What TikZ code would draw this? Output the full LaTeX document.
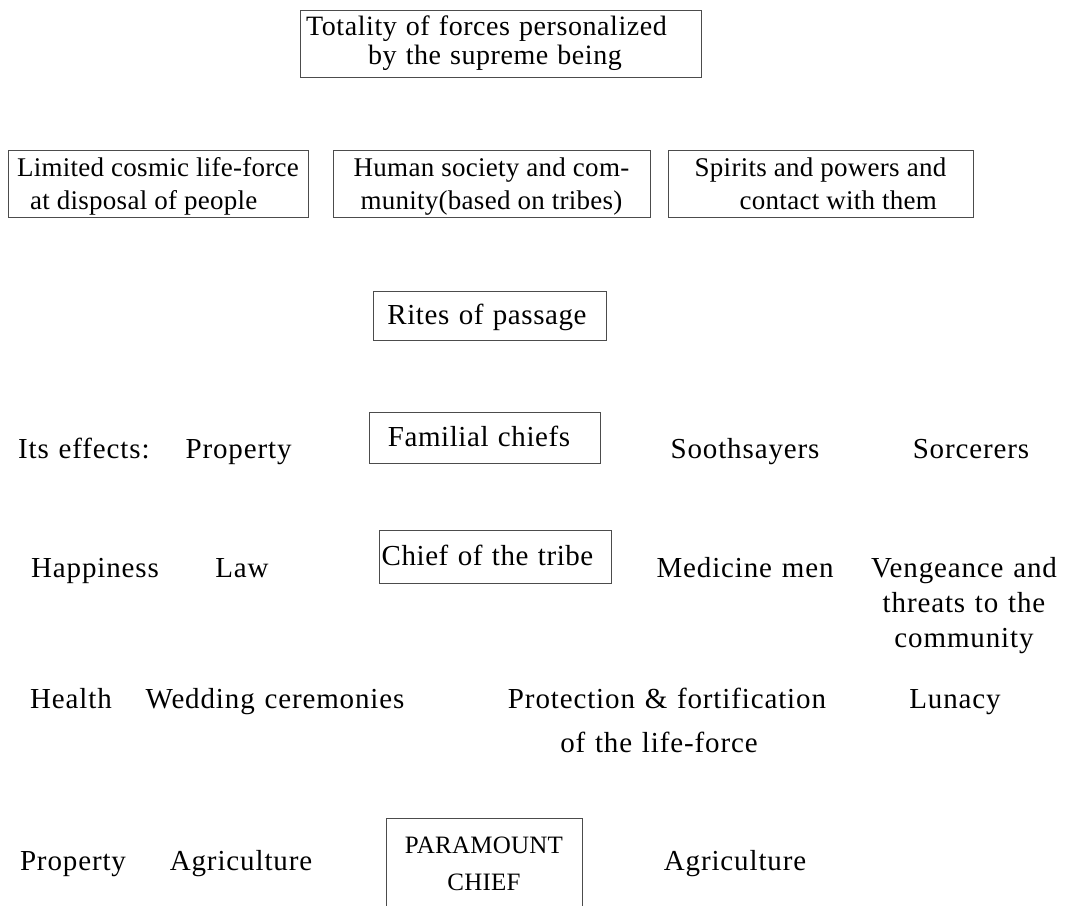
\documentclass[tikz,border=0pt]{standalone}
\usepackage{fontspec}
\setmainfont{Liberation Serif}
\newfontfamily\widefont{Liberation Serif}[LetterSpace=3, WordSpace=1.2]
\newfontfamily\topfont{Liberation Serif}[LetterSpace=2, WordSpace=1.2]
\newfontfamily\rowfont{Liberation Serif}[LetterSpace=1]
\newfontfamily\capfont{Liberation Serif}[LetterSpace=1]
\newcommand{\upstrut}{\rule{0pt}{26pt}}
\newcommand{\downstrut}{\rule[-7pt]{0pt}{7pt}}
\usetikzlibrary{positioning}

\begin{document}
\begin{tikzpicture}[
  x=1pt, y=-1pt,
  box/.style={draw=black!70, line width=0.9pt, rectangle, align=center, inner sep=0pt},
  rowbox/.style={box, font=\rowfont\fontsize{27}{33}\selectfont, minimum height=67pt},
  onebox/.style={box, font=\topfont\fontsize{29}{35}\selectfont, text height=21pt, text depth=4pt},
  lbl/.style={font=\widefont\fontsize{29}{35}\selectfont, inner sep=0pt, anchor=base},
  ]
  \clip (0,0) rectangle (1065,905);
  \fill[white] (0,0) rectangle (1065,905);
  % boxes
  \node[box, font=\topfont\fontsize{28}{29}\selectfont, minimum width=401pt, minimum height=67pt] (total) at (500.5,43.5)
    {Totality of forces personalized\hspace*{28pt}\\by the supreme being\hspace*{11pt}};
  \node[rowbox, align=left, minimum width=300pt] (cosmic) at (158,183.5)
    {\upstrut Limited cosmic life-force\\\hspace*{13pt}at disposal of people\downstrut};
  \node[rowbox, minimum width=317pt] (society) at (491.5,183.5)
    {\upstrut Human society and com-\\munity(based on tribes)\downstrut};
  \node[rowbox, align=left, minimum width=305pt] (spirits) at (820.5,183.5)
    {\upstrut Spirits and powers and\\\hspace*{45pt}contact with them\downstrut};
  \node[onebox, minimum width=233pt, minimum height=49pt] (rites) at (489.5,315.5) {Rites of passage\hspace*{5pt}};
  \node[onebox, minimum width=231pt, minimum height=51pt] (familial) at (484.5,437.5) {Familial chiefs\hspace*{11pt}};
  \node[onebox, minimum width=232pt, minimum height=53pt] (tribe) at (495,556.5) {Chief of the tribe\hspace*{15pt}};
  \node[box, font=\capfont\fontsize{25}{37}\selectfont, minimum width=196pt, minimum height=90pt, anchor=north] (paramount) at (484,818)
    {PARAMOUNT\\CHIEF};
  % labels round the chiefs
  \node[lbl, anchor=base west] (effects) at (18,458) {Its effects:\hspace{36pt}Property};
  \node[lbl] (sooth) at (745,458) {Soothsayers};
  \node[lbl] (sorc) at (971,458) {Sorcerers};
  \node[lbl] (happy) at (95,577) {Happiness};
  \node[lbl] (law) at (242,577) {Law};
  \node[lbl] (medicine) at (745,577) {Medicine men};
  \node[lbl, anchor=center, align=center] (venge) at (964,605.5) {Vengeance and\\threats to the\\community};
  \node[lbl] (health) at (71,708) {Health};
  \node[lbl] (wedding) at (275,708) {Wedding ceremonies};
  \node[lbl] (protect) at (667,708) {Protection \& fortification};
  \node[lbl] (lifeforce) at (659,752) {of the life-force};
  \node[lbl] (lunacy) at (955,708) {Lunacy};
  \node[lbl] (property) at (73,870) {Property};
  \node[lbl] (agri) at (241,870) {Agriculture};
  \node[lbl] (agri2) at (735,870) {Agriculture};
\end{tikzpicture}
\end{document}
